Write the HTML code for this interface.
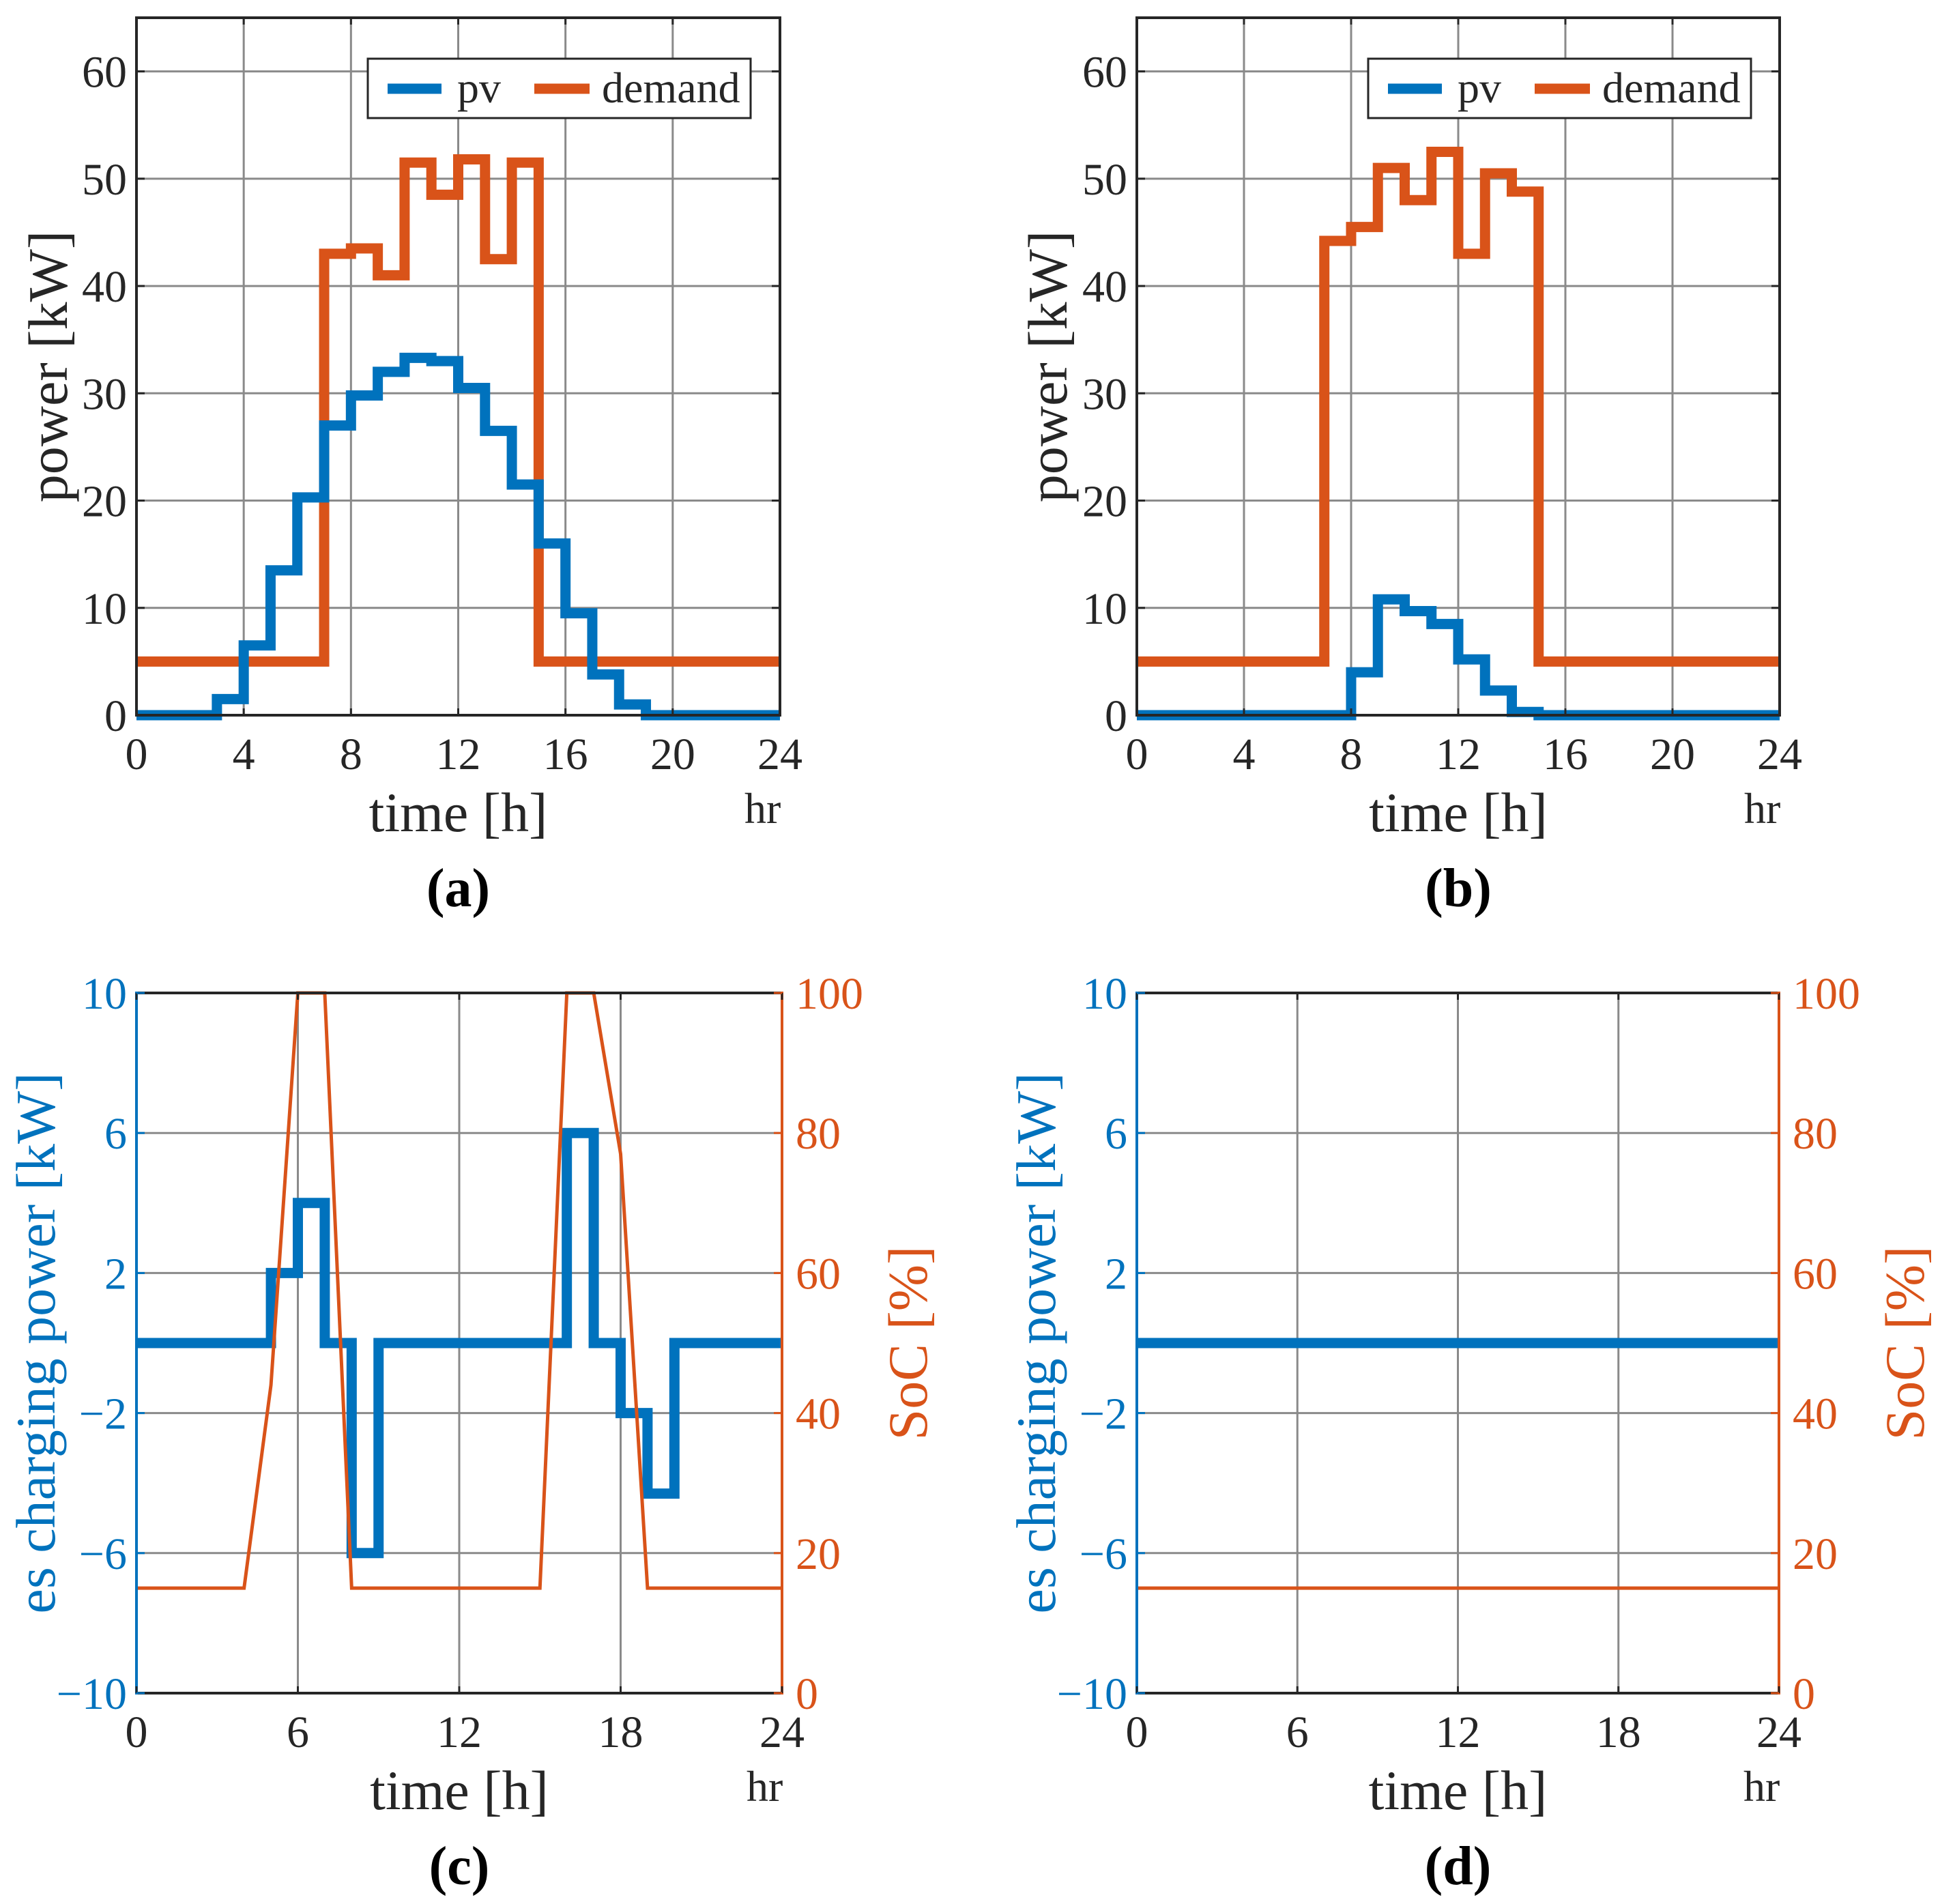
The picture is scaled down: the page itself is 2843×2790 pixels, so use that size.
<!DOCTYPE html>
<html><head><meta charset="utf-8"><style>
html,body{margin:0;padding:0;background:#fff;}
svg{display:block;font-family:"Liberation Serif",serif;}
</style></head><body>
<svg id="fig" width="2843" height="2790" viewBox="0 0 2843 2790" xmlns="http://www.w3.org/2000/svg"></svg>
<script>
// ---- data ----
const hours = [0,1,2,3,4,5,6,7,8,9,10,11,12,13,14,15,16,17,18,19,20,21,22,23];
const pvA = [0,0,0,1.5,6.5,13.5,20.3,27,29.8,32,33.3,33,30.5,26.5,21.5,16,9.5,3.8,1,0,0,0,0,0];
const demandA = [5,5,5,5,5,5,5,43,43.5,41,51.5,48.5,51.8,42.5,51.5,5,5,5,5,5,5,5,5,5];
const pvB = [0,0,0,0,0,0,0,0,4,10.8,9.7,8.5,5.2,2.3,0.3,0,0,0,0,0,0,0,0,0];
const demandB = [5,5,5,5,5,5,5,44.2,45.5,51,48,52.5,43,50.5,48.8,5,5,5,5,5,5,5,5,5];
const esC = [0,0,0,0,0,2,4,0,-6,0,0,0,0,0,0,0,6,0,-2,-4.3,0,0,0,0];
const socHoursC = [0,4,5,6,7,8,15,16,17,18,19,24];
const socC = [15,15,44,100,100,15,15,100,100,77,15,15];
const esD = [0,0,0,0,0,0,0,0,0,0,0,0,0,0,0,0,0,0,0,0,0,0,0,0];
const socHoursD = [0,24];
const socD = [15,15];
const xTicksAB = [0,4,8,12,16,20,24];
const yTicksAB = [0,10,20,30,40,50,60];
const xTicksCD = [0,6,12,18,24];
const yTicksCD = [-10,-6,-2,2,6,10];
const socTicks = [0,20,40,60,80,100];

const BLUE="#0072BD", ORANGE="#D95319", NS="http://www.w3.org/2000/svg";
const svg=document.getElementById('fig');
function el(tag,attrs,parent,text){const e=document.createElementNS(NS,tag);for(const k in attrs)e.setAttribute(k,attrs[k]);if(text!==undefined)e.textContent=text;(parent||svg).appendChild(e);return e;}

function panel(p){
  const g=el('g',{});
  
  
  const sx=v=>p.L+(v-p.x0)/(p.x1-p.x0)*(p.R-p.L);
  const sy=v=>p.B-(v-p.y0)/(p.y1-p.y0)*(p.B-p.T);
  const sy2=v=>p.B-(v)/100*(p.B-p.T);
  p.xt.forEach(v=>{const l=el('line',{x1:sx(v),x2:sx(v),y1:p.T,y2:p.B,stroke:'#8a8a8a','stroke-width':3},g);
    
    });
  p.yt.forEach(v=>{const l=el('line',{x1:p.L,x2:p.R,y1:sy(v),y2:sy(v),stroke:'#8a8a8a','stroke-width':3},g);
    
    });
  p.series.forEach(s=>{
    let d='';
    if(s.step){s.y.forEach((v,i)=>{const x0=sx(s.x[i]),x1=sx(i+1<s.x.length?s.x[i+1]:24),y=sy(v);d+=(i?'L':'M')+x0+' '+y+'L'+x1+' '+y;});}
    else{s.y.forEach((v,i)=>{d+=(i?'L':'M')+sx(s.x[i])+' '+sy2(v);});}
    const pth=el('path',{d:d,fill:'none',stroke:s.c,'stroke-width':s.w,'stroke-linejoin':'miter','stroke-linecap':'butt'},g);
    
    
  });
  const lc=p.dual?BLUE:'#262626', rc=p.dual?ORANGE:'#262626';
  el('line',{x1:p.L,x2:p.R,y1:p.T,y2:p.T,stroke:'#262626','stroke-width':4},g);
  el('line',{x1:p.L,x2:p.R,y1:p.B,y2:p.B,stroke:'#262626','stroke-width':4},g);
  el('line',{x1:p.L,x2:p.L,y1:p.T-2,y2:p.B+2,stroke:lc,'stroke-width':4},g);
  el('line',{x1:p.R,x2:p.R,y1:p.T-2,y2:p.B+2,stroke:rc,'stroke-width':4},g);
  p.xt.forEach(v=>{el('line',{x1:sx(v),x2:sx(v),y1:p.B,y2:p.B-10,stroke:'#262626','stroke-width':3},g);
    el('line',{x1:sx(v),x2:sx(v),y1:p.T,y2:p.T+10,stroke:'#262626','stroke-width':3},g);
    const t=el('text',{x:sx(v),y:p.B+79,'text-anchor':'middle','font-size':66,fill:'#262626'},g,String(v));
    
    });
  p.yt.forEach(v=>{el('line',{x1:p.L,x2:p.L+12,y1:sy(v),y2:sy(v),stroke:lc,'stroke-width':3},g);
    if(!p.dual)el('line',{x1:p.R,x2:p.R-12,y1:sy(v),y2:sy(v),stroke:'#262626','stroke-width':3},g);
    const t=el('text',{x:p.L-14,y:sy(v)+23,'text-anchor':'end','font-size':66,fill:p.dual?BLUE:'#262626'},g,(v<0?'\u2212'+(-v):String(v)));
    
    });
  if(p.dual){socTicks.forEach(v=>{el('line',{x1:p.R,x2:p.R-12,y1:sy2(v),y2:sy2(v),stroke:ORANGE,'stroke-width':3},g);
    const t=el('text',{x:p.R+20,y:sy2(v)+23,'text-anchor':'start','font-size':66,fill:ORANGE},g,String(v));
    
    });}
  const xt=el('text',{x:(p.L+p.R)/2,y:p.B+170,'text-anchor':'middle','font-size':82,fill:'#262626'},g,'time [h]');
  
  
  const hr=el('text',{x:p.R-52,y:p.B+158,'font-size':64,fill:'#262626'},g,'hr');
  
  
  const lab=el('text',{x:(p.L+p.R)/2,y:p.B+280,'text-anchor':'middle','font-size':80,'font-weight':'bold',fill:'#000'},g,p.label);
  
  
  const cy=(p.T+p.B)/2;
  const yl=el('text',{x:p.ylx,y:cy,'text-anchor':'middle','font-size':82,fill:p.dual?BLUE:'#262626',transform:`rotate(-90 ${p.ylx} ${cy})`},g,p.ylabel);
  
  
  if(p.dual){const rx=p.R+212;
    const yr=el('text',{x:rx,y:cy,'text-anchor':'middle','font-size':82,fill:ORANGE,transform:`rotate(-90 ${rx} ${cy})`},g,'SoC [%]');
    
    }
  if(p.legend){const lx=p.L+339, ly=86;
    const lg=el('g',{},g);
    
    
    el('rect',{x:lx,y:ly,width:561,height:87,fill:'#fff',stroke:'#262626','stroke-width':3},lg);
    el('line',{x1:lx+29,x2:lx+108,y1:ly+44,y2:ly+44,stroke:BLUE,'stroke-width':15},lg);
    const t1=el('text',{x:lx+131,y:ly+64,'font-size':64,fill:'#262626'},lg,'pv');
    
    
    el('line',{x1:lx+244,x2:lx+325,y1:ly+44,y2:ly+44,stroke:ORANGE,'stroke-width':15},lg);
    const t2=el('text',{x:lx+343,y:ly+64,'font-size':64,fill:'#262626'},lg,'demand');
    
    }
}

const ab={x0:0,x1:24,y0:0,y1:65,T:26,B:1048,xt:xTicksAB,yt:yTicksAB,legend:true,ylabel:'power [kW]'};
panel(Object.assign({},ab,{name:'panel-a',L:200,R:1143,label:'(a)',ylx:98,
  series:[{name:'demand-line-a',x:hours,y:demandA,c:ORANGE,w:15,step:true},{name:'pv-line-a',x:hours,y:pvA,c:BLUE,w:15,step:true}]}));
panel(Object.assign({},ab,{name:'panel-b',L:1666,R:2608,label:'(b)',ylx:1563,
  series:[{name:'demand-line-b',x:hours,y:demandB,c:ORANGE,w:15,step:true},{name:'pv-line-b',x:hours,y:pvB,c:BLUE,w:15,step:true}]}));
const cd={x0:0,x1:24,y0:-10,y1:10,T:1455,B:2481,xt:xTicksCD,yt:yTicksCD,dual:true,ylabel:'es charging power [kW]'};
panel(Object.assign({},cd,{name:'panel-c',L:200,R:1146,label:'(c)',ylx:80,
  series:[{name:'es-power-line-c',x:hours,y:esC,c:BLUE,w:15,step:true},{name:'soc-line-c',x:socHoursC,y:socC,c:ORANGE,w:5,step:false}]}));
panel(Object.assign({},cd,{name:'panel-d',L:1666,R:2607,label:'(d)',ylx:1546,
  series:[{name:'es-power-line-d',x:hours,y:esD,c:BLUE,w:15,step:true},{name:'soc-line-d',x:socHoursD,y:socD,c:ORANGE,w:5,step:false}]}));
</script>
</body></html>
